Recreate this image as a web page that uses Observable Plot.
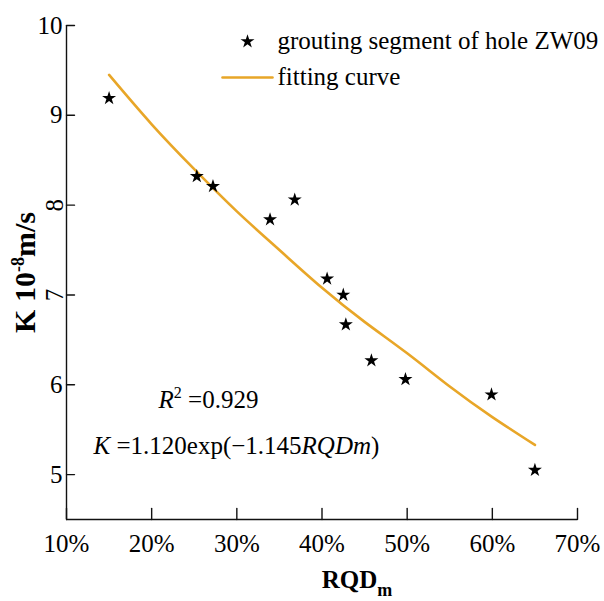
<!DOCTYPE html>
<html>
<head>
<meta charset="utf-8">
<script src="https://cdn.jsdelivr.net/npm/d3@7"></script>
<script src="https://cdn.jsdelivr.net/npm/@observablehq/plot@0.6"></script>
<style>
  body { margin: 0; background: #fff; }
  #chart { width: 604px; height: 601px; }
</style>
</head>
<body>
<div id="chart"></div>
<script>
// ---- data ----
const rqd = [15.0, 25.3, 27.2, 33.9, 36.8, 40.6, 42.5, 42.8, 45.8, 49.8, 59.9, 65.0];
const kValues = [9.19, 8.32, 8.21, 7.84, 8.06, 7.18, 7.00, 6.67, 6.27, 6.06, 5.89, 5.05];
const fitRqd = [15, 20, 25, 30, 35, 40, 45, 50, 55, 60, 65];
const fitK = [9.45, 8.90, 8.40, 7.93, 7.50, 7.08, 6.70, 6.35, 5.98, 5.64, 5.33];
const xTicks = [10, 20, 30, 40, 50, 60, 70];
const yTicks = [5, 6, 7, 8, 9, 10];
const yTicksRotated = [7, 8];
const xDomain = [10, 70];
const yDomain = [4.5, 10];
const legendLabels = ["grouting segment of hole ZW09", "fitting curve"];
const yLabelParts = [{t: "K 10"}, {t: "-8", sup: true}, {t: "m/s"}];
const xLabelParts = [{t: "RQD"}, {t: "m", sub: true}];
const r2Parts = [{t: "R", i: true}, {t: "2", sup: true}, {t: " =0.929"}];
const formulaParts = [{t: "K", i: true}, {t: " =1.120exp(\u22121.145"}, {t: "RQDm", i: true}, {t: ")"}];

const points = rqd.map((x, i) => ({x, y: kValues[i]}));
const fit = fitRqd.map((x, i) => ({x, y: fitK[i]}));
const gold = "#E8A628";
const ink = "#111";
const tickShape = {draw(ctx, l) { ctx.moveTo(0, 0); ctx.lineTo(0, -l); }};
const joined = (parts) => parts.map(p => p.t).join("");

const chart = Plot.plot({
  width: 604,
  height: 601,
  marginLeft: 66,
  marginRight: 27,
  marginTop: 25,
  marginBottom: 82,
  x: {domain: xDomain, axis: null},
  y: {domain: yDomain, axis: null},
  style: {fontFamily: "'Liberation Serif', 'Times New Roman', serif", fontSize: "25px", color: "#000", background: "#fff", overflow: "visible"},
  marks: [
    Plot.ruleX([xDomain[0]], {stroke: ink, strokeWidth: 1.4}),
    Plot.ruleY([yDomain[0]], {stroke: ink, strokeWidth: 1.4}),
    Plot.vector(xTicks, {x: d => d, frameAnchor: "bottom", length: 11, rotate: 0, anchor: "start", shape: tickShape, stroke: ink, strokeWidth: 1.4}),
    Plot.vector(yTicks, {y: d => d, frameAnchor: "left", length: 8, rotate: 90, anchor: "start", shape: tickShape, stroke: ink, strokeWidth: 1.4}),
    Plot.text(xTicks, {x: d => d, frameAnchor: "bottom", text: d => `${d}%`, textAnchor: "middle", lineAnchor: "middle", dy: 24}),
    Plot.text(yTicks.filter(d => !yTicksRotated.includes(d)), {y: d => d, frameAnchor: "left", text: d => `${d}`, textAnchor: "end", lineAnchor: "middle", dx: -4}),
    Plot.text(yTicksRotated, {y: d => d, frameAnchor: "left", text: d => `${d}`, rotate: -90, textAnchor: "middle", lineAnchor: "middle", dx: -12}),
    Plot.line(fit, {x: "x", y: "y", stroke: gold, strokeWidth: 2.6, curve: "natural"}),
    Plot.dot(points, {x: "x", y: "y", symbol: "star", r: 4.4, fill: "#000", stroke: "none"}),
    // legend
    Plot.dot([0], {frameAnchor: "top-left", dx: 181, dy: 16, symbol: "star", r: 4.4, fill: "#000", stroke: "none"}),
    Plot.vector([0], {frameAnchor: "top-left", dx: 156, dy: 52, rotate: 90, length: 50, anchor: "start", shape: tickShape, stroke: gold, strokeWidth: 2.6}),
    Plot.text([legendLabels[0]], {frameAnchor: "top-left", dx: 211, dy: 15, text: d => d, textAnchor: "start", lineAnchor: "middle"}),
    Plot.text([legendLabels[1]], {frameAnchor: "top-left", dx: 211, dy: 51, text: d => d, textAnchor: "start", lineAnchor: "middle"}),
    // annotations
    Plot.text([joined(r2Parts)], {frameAnchor: "bottom-left", dx: 92, dy: -120, text: d => d, textAnchor: "start", lineAnchor: "middle"}),
    Plot.text([joined(formulaParts)], {frameAnchor: "bottom-left", dx: 27, dy: -74, text: d => d, textAnchor: "start", lineAnchor: "middle"}),
    // axis titles
    Plot.text([joined(yLabelParts)], {frameAnchor: "left", rotate: -90, dx: -41, text: d => d, textAnchor: "middle", lineAnchor: "middle", fontWeight: "bold", fontSize: 30}),
    Plot.text([joined(xLabelParts)], {frameAnchor: "bottom", dx: 35, dy: 68, text: d => d, textAnchor: "middle", lineAnchor: "bottom", fontWeight: "bold"})
  ]
});

function rich(parts, supShift, subShift, smallSize) {
  const full = joined(parts);
  d3.select(chart).selectAll("text").filter(function () { return this.textContent === full; }).each(function () {
    const el = d3.select(this);
    el.text(null);
    let shift = 0;
    parts.forEach((p, idx) => {
      const ts = el.append("tspan").text(p.t);
      const target = p.sup ? -supShift : p.sub ? subShift : 0;
      if (idx > 0 && target !== shift) ts.attr("dy", target - shift);
      shift = target;
      if (p.i) ts.attr("font-style", "italic");
      if (p.sup || p.sub) ts.attr("font-size", smallSize);
    });
  });
}
rich(yLabelParts, 11, 0, 18);
rich(xLabelParts, 0, 8, 18);
rich(r2Parts, 10, 0, 16);
rich(formulaParts, 0, 0, 16);

document.getElementById("chart").append(chart);
</script>
</body>
</html>
